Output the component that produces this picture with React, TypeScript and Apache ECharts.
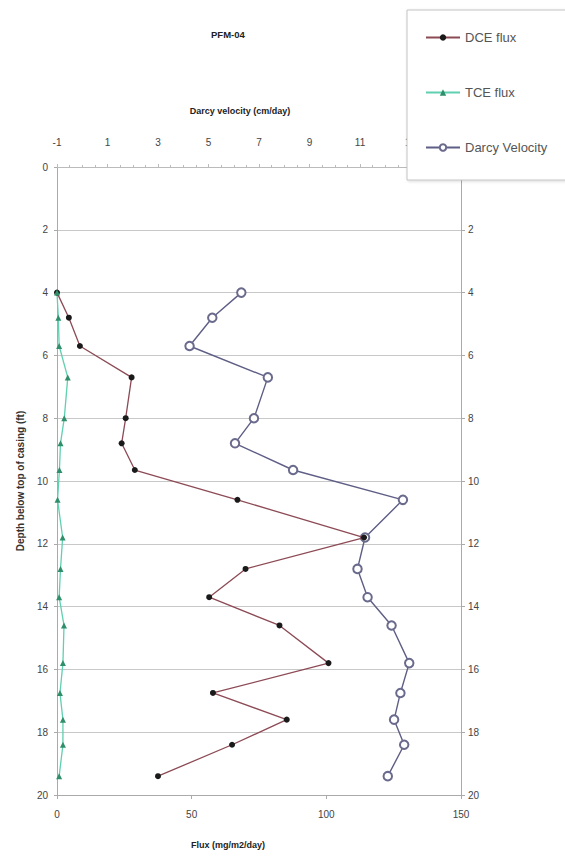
import React, { useEffect, useRef } from "react";
import * as echarts from "echarts";

const depths = [4, 4.8, 5.7, 6.7, 8.0, 8.8, 9.65, 10.6, 11.8, 12.8, 13.7, 14.6, 15.8, 16.75, 17.6, 18.4, 19.4];
const dceFlux = [0, 4.4, 8.5, 27.7, 25.5, 24, 28.9, 67, 114, 70, 56.5, 82.6, 100.8, 57.9, 85.3, 65, 37.5];
const tceFlux = [0, 0.5, 0.8, 4, 2.7, 1.3, 0.9, 0.2, 2.1, 1.3, 0.8, 2.6, 2.2, 1.1, 2.2, 2.2, 0.8];
const darcyVelocity = [6.3, 5.15, 4.25, 7.35, 6.8, 6.05, 8.35, 12.7, 11.2, 10.9, 11.3, 12.25, 12.95, 12.6, 12.35, 12.75, 12.1];

const fluxTicks = { min: 0, max: 150, interval: 50 };
const darcyTicks = { min: -1, max: 15, interval: 2 };
const depthTicks = { min: 0, max: 20, interval: 2 };

const FONT = "'Liberation Sans', Arial, sans-serif";

export default function App() {
  const ref = useRef<HTMLDivElement>(null);
  useEffect(() => {
    if (!ref.current) return;
    const chart = echarts.init(ref.current, null, { renderer: "svg" });
    const pair = (xs: number[]) => xs.map((v, i) => [v, depths[i]]);
    chart.setOption({
      animation: false,
      backgroundColor: "#fff",
      textStyle: { fontFamily: FONT },
      title: {
        text: "PFM-04",
        left: 206,
        top: 24,
        textStyle: { fontSize: 9.5, fontWeight: "bold", color: "#222", fontFamily: FONT },
      },
      graphic: [
        {
          type: "rect",
          z: 5,
          shape: { x: 407, y: 10, width: 170, height: 170 },
          style: { fill: "#fff", stroke: "#c4c4c4", lineWidth: 1, shadowBlur: 3, shadowColor: "rgba(0,0,0,0.15)", shadowOffsetX: 1, shadowOffsetY: 1 },
        },
      ],
      legend: {
        z: 6,
        orient: "vertical",
        left: 420,
        top: 26,
        itemGap: 42,
        itemWidth: 34,
        itemHeight: 8,
        textStyle: { fontSize: 13, color: "#555", fontFamily: FONT },
        data: ["DCE flux", "TCE flux", "Darcy Velocity"],
      },
      grid: { left: 57, right: 104, top: 167, bottom: 62, containLabel: false },
      xAxis: [
        {
          type: "value",
          position: "bottom",
          ...fluxTicks,
          name: "Flux (mg/m2/day)",
          nameLocation: "middle",
          nameGap: 45,
          nameTextStyle: { fontSize: 9, fontWeight: "bold", color: "#222", padding: [0, 62, 0, 0] },
          axisLine: { show: true, onZero: false, lineStyle: { color: "#aaa" } },
          axisTick: { show: true, lineStyle: { color: "#aaa" }, length: 4 },
          axisLabel: { fontSize: 10, color: "#444", margin: 14 },
          splitLine: { show: false },
        },
        {
          type: "value",
          position: "top",
          ...darcyTicks,
          name: "Darcy velocity (cm/day)",
          nameLocation: "middle",
          nameGap: 52,
          nameTextStyle: { fontSize: 9, fontWeight: "bold", color: "#222", padding: [0, 38, 0, 0] },
          axisLine: { show: true, onZero: false, lineStyle: { color: "#bbb" } },
          axisTick: { show: true, lineStyle: { color: "#bbb" }, length: 3 },
          minorTick: { show: true, splitNumber: 4, length: 2, lineStyle: { color: "#bbb" } },
          axisLabel: { fontSize: 10, color: "#444", margin: 20, showMaxLabel: false },
          splitLine: { show: false },
        },
      ],
      yAxis: [
        {
          type: "value",
          inverse: true,
          position: "left",
          ...depthTicks,
          name: "Depth below top of casing (ft)",
          nameLocation: "middle",
          nameGap: 32,
          nameRotate: 90,
          nameTextStyle: { fontSize: 10, fontWeight: "bold", color: "#333" },
          axisLine: { show: true, onZero: false, lineStyle: { color: "#aaa" } },
          axisTick: { show: true, lineStyle: { color: "#aaa" }, length: 3 },
          axisLabel: { fontSize: 10, color: "#444", margin: 9 },
          splitLine: { show: true, lineStyle: { color: "#c8c8c8", width: 1.2 } },
        },
        {
          type: "value",
          inverse: true,
          position: "right",
          ...depthTicks,
          axisLine: { show: true, onZero: false, lineStyle: { color: "#aaa" } },
          axisTick: { show: true, lineStyle: { color: "#aaa" }, length: 4 },
          axisLabel: { fontSize: 10, color: "#444", margin: 7, showMinLabel: false },
          splitLine: { show: false },
        },
      ],
      series: [
        {
          name: "DCE flux",
          type: "line",
          xAxisIndex: 0,
          yAxisIndex: 0,
          data: pair(dceFlux),
          symbol: "circle",
          symbolSize: 6,
          lineStyle: { color: "#8c4a55", width: 1.3 },
          itemStyle: { color: "#1a1a1a" },
          color: "#8c4a55",
          z: 3,
        },
        {
          name: "TCE flux",
          type: "line",
          xAxisIndex: 0,
          yAxisIndex: 0,
          data: pair(tceFlux),
          symbol: "triangle",
          symbolSize: 6,
          lineStyle: { color: "#5fd0b0", width: 1.3 },
          itemStyle: { color: "#2f8f6a" },
          color: "#5fd0b0",
          z: 3,
        },
        {
          name: "Darcy Velocity",
          type: "line",
          xAxisIndex: 1,
          yAxisIndex: 0,
          data: pair(darcyVelocity),
          symbol: "emptyCircle",
          symbolSize: 8.5,
          lineStyle: { color: "#5e5e86", width: 1.4 },
          itemStyle: { color: "#6a6a8c", borderWidth: 1.1 },
          color: "#5e5e86",
          z: 2,
        },
      ],
    });
    return () => chart.dispose();
  }, []);
  return <div ref={ref} style={{ width: 565, height: 857, position: "absolute", left: 0, top: 0 }} />;
}
